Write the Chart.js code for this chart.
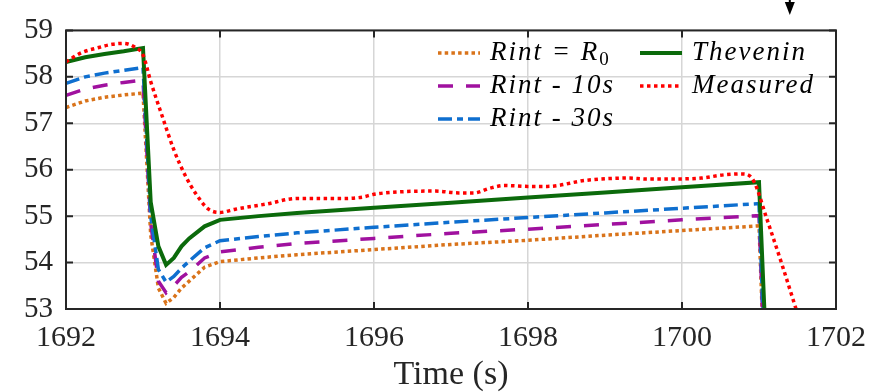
<!DOCTYPE html>
<html>
<head>
<meta charset="utf-8">
<script src="https://cdn.jsdelivr.net/npm/chart.js@4.4.1/dist/chart.umd.min.js"></script>
<style>
body { margin: 0; background: #fff; }
</style>
</head>
<body>
<canvas id="grafico" width="877" height="392"></canvas>
<script>
// time base of the model curves (s)
const tModel = [1692, 1692.25, 1692.5, 1692.75, 1693.0, 1693.1, 1693.2, 1693.3, 1693.4, 1693.5, 1693.6, 1693.8, 1694.0, 1694.5, 1695, 1696, 1697, 1698, 1699, 1700, 1701.0, 1701.1];
const vR0       = [57.34, 57.48, 57.56, 57.61, 57.65, 54.6, 53.45, 53.12, 53.25, 53.45, 53.6, 53.9, 54.02, 54.1, 54.17, 54.28, 54.39, 54.48, 54.59, 54.69, 54.79, 50.3];
const v10s      = [57.6, 57.74, 57.82, 57.88, 57.93, 54.85, 53.6, 53.35, 53.5, 53.68, 53.8, 54.1, 54.23, 54.33, 54.41, 54.52, 54.63, 54.72, 54.82, 54.92, 55.01, 50.5];
const v30s      = [57.86, 58.0, 58.08, 58.14, 58.2, 55.0, 53.85, 53.58, 53.7, 53.88, 54.03, 54.32, 54.47, 54.56, 54.64, 54.76, 54.87, 54.97, 55.07, 55.17, 55.27, 50.7];
const vThevenin = [58.32, 58.42, 58.49, 58.55, 58.62, 55.3, 54.35, 53.95, 54.1, 54.35, 54.52, 54.78, 54.92, 55.0, 55.07, 55.18, 55.29, 55.40, 55.51, 55.62, 55.73, 51.8];

// measured voltage
const tMeasured = [1692, 1692.2, 1692.4, 1692.6, 1692.75, 1692.9, 1693.0, 1693.1, 1693.25, 1693.4, 1693.55, 1693.7, 1693.85, 1694.0, 1694.2, 1694.6, 1695, 1695.6, 1695.85, 1696.0, 1696.3, 1696.8, 1697.1, 1697.3, 1697.5, 1697.7, 1698.0, 1698.25, 1698.75, 1699.3, 1699.55, 1699.85, 1700.25, 1700.55, 1700.8, 1700.93, 1701.1, 1701.3, 1701.5];
const vMeasured = [58.32, 58.52, 58.62, 58.7, 58.72, 58.63, 58.47, 57.9, 57.15, 56.43, 55.87, 55.45, 55.15, 55.08, 55.15, 55.26, 55.38, 55.38, 55.41, 55.47, 55.52, 55.54, 55.5, 55.5, 55.6, 55.66, 55.64, 55.64, 55.77, 55.82, 55.8, 55.8, 55.82, 55.89, 55.91, 55.76, 54.95, 53.95, 52.9];

const seriesNames = ['Rint = R0', 'Rint - 10s', 'Rint - 30s', 'Thevenin', 'Measured'];
const xTicks = [1692, 1694, 1696, 1698, 1700, 1702];
const yTicks = [53, 54, 55, 56, 57, 58, 59];
const arrowTime = 1701.4;

const pts = (t, v) => t.map((x, i) => ({ x: x, y: v[i] }));
const serif = 'Liberation Serif';
const ink = '#262626';

const datasets = [
    { label: seriesNames[0], data: pts(tModel, vR0), borderColor: '#d9731a', borderWidth: 3.5, borderDash: [3.5, 3.2], order: 5 },
    { label: seriesNames[1], data: pts(tModel, v10s), borderColor: '#a0119f', borderWidth: 3.5, borderDash: [15, 13], order: 4 },
    { label: seriesNames[2], data: pts(tModel, v30s), borderColor: '#0f6fcf', borderWidth: 3.5, borderDash: [14, 5, 6, 5], order: 3 },
    { label: seriesNames[3], data: pts(tModel, vThevenin), borderColor: '#0b6a0b', borderWidth: 4, order: 2 },
    { label: seriesNames[4], data: pts(tMeasured, vMeasured), borderColor: '#ff0000', borderWidth: 3.5, borderDash: [3.5, 3.5], cubicInterpolationMode: 'monotone', order: 1 }
];

// where each legend entry goes: column x, row baseline
const legendSlots = [
    { x: 438, y: 60 }, { x: 438, y: 93 }, { x: 438, y: 126 },
    { x: 640, y: 60 }, { x: 640, y: 93 }
];

const boxPlugin = {
    id: 'box',
    afterDatasetsDraw(chart) {
        const { ctx, chartArea: a, scales: { x, y } } = chart;
        ctx.save();
        ctx.strokeStyle = ink;
        ctx.lineWidth = 2;
        ctx.strokeRect(a.left, a.top, a.right - a.left, a.bottom - a.top);

        // inward ticks on all four sides
        ctx.beginPath();
        xTicks.forEach(v => {
            const px = x.getPixelForValue(v);
            ctx.moveTo(px, a.bottom); ctx.lineTo(px, a.bottom - 7);
            ctx.moveTo(px, a.top); ctx.lineTo(px, a.top + 7);
        });
        yTicks.forEach(v => {
            const py = y.getPixelForValue(v);
            ctx.moveTo(a.left, py); ctx.lineTo(a.left + 7, py);
            ctx.moveTo(a.right, py); ctx.lineTo(a.right - 7, py);
        });
        ctx.stroke();

        // arrow marker above the axes
        const ax = x.getPixelForValue(arrowTime);
        ctx.fillStyle = '#000';
        ctx.beginPath();
        ctx.moveTo(ax - 5, 2);
        ctx.lineTo(ax + 5, 2);
        ctx.lineTo(ax, 15);
        ctx.closePath();
        ctx.fill();
        ctx.fillRect(ax - 1, 0, 2, 3);

        // legend
        chart.data.datasets.forEach((ds, i) => {
            const slot = legendSlots[i];
            ctx.save();
            ctx.strokeStyle = ds.borderColor;
            ctx.lineWidth = ds.borderWidth;
            ctx.setLineDash(ds.borderDash || []);
            ctx.beginPath();
            ctx.moveTo(slot.x, slot.y - 7);
            ctx.lineTo(slot.x + 42, slot.y - 7);
            ctx.stroke();
            ctx.restore();

            ctx.fillStyle = '#000';
            ctx.textBaseline = 'alphabetic';
            ctx.textAlign = 'left';
            ctx.letterSpacing = '2px';
            ctx.font = 'italic 27px "' + serif + '"';
            let label = ds.label;
            let sub = null;
            if (/R0$/.test(label)) { sub = '0'; label = label.slice(0, -1); }
            const tx = slot.x + 52;
            ctx.fillText(label, tx, slot.y);
            if (sub) {
                const w = ctx.measureText(label).width;
                ctx.font = '19px "' + serif + '"';
                ctx.fillText(sub, tx + w, slot.y + 5);
            }
            ctx.letterSpacing = '0px';
        });
        ctx.restore();
    }
};

new Chart(document.getElementById('grafico'), {
    type: 'line',
    data: { datasets: datasets },
    options: {
        responsive: false,
        animation: false,
        devicePixelRatio: 1,
        layout: { padding: { top: 20, right: 36, left: 0, bottom: 0 } },
        plugins: { legend: { display: false }, tooltip: { enabled: false } },
        elements: { point: { radius: 0 }, line: { tension: 0, borderCapStyle: 'butt' } },
        datasets: { line: { clip: 1 } },
        scales: {
            x: {
                type: 'linear',
                min: 1692,
                max: 1702,
                afterBuildTicks: s => { s.ticks = xTicks.map(v => ({ value: v })); },
                afterFit: s => { s.height = 83; },
                grid: { color: '#d6d6d6', lineWidth: 1.5, drawTicks: false },
                border: { display: false },
                ticks: {
                    color: ink,
                    font: { family: serif, size: 30 },
                    padding: 11,
                    maxRotation: 0,
                    autoSkip: false,
                    callback: v => String(v)
                },
                title: {
                    display: true,
                    text: 'Time (s)',
                    color: ink,
                    font: { family: serif, size: 34, lineHeight: 1 },
                    padding: { top: 0, bottom: 0 }
                }
            },
            y: {
                min: 53,
                max: 59,
                afterBuildTicks: s => { s.ticks = yTicks.map(v => ({ value: v })); },
                afterFit: s => { s.width = 66; },
                grid: { color: '#d6d6d6', lineWidth: 1.5, drawTicks: false },
                border: { display: false },
                ticks: {
                    color: ink,
                    font: { family: serif, size: 29 },
                    padding: 13,
                    callback: v => String(v)
                }
            }
        }
    },
    plugins: [boxPlugin]
});
</script>
</body>
</html>
